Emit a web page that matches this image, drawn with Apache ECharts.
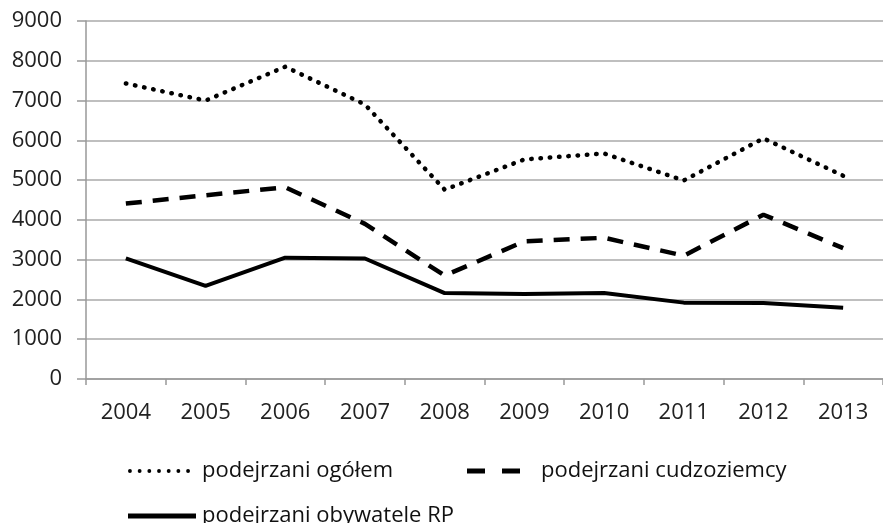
<!DOCTYPE html>
<html><head><meta charset="utf-8">
<script src="https://cdn.jsdelivr.net/npm/echarts@6/dist/echarts.min.js"></script>
<style>html,body{margin:0;padding:0;background:#fff}#c{width:883px;height:523px}</style>
</head><body><div id="c"></div>
<script>
const years = ['2004','2005','2006','2007','2008','2009','2010','2011','2012','2013'];
const ogolem = [7430, 7000, 7850, 6900, 4760, 5520, 5670, 4990, 6050, 5110];
const cudzoziemcy = [4410, 4620, 4820, 3900, 2600, 3460, 3550, 3100, 4130, 3290];
const obywatele = [3030, 2340, 3050, 3030, 2160, 2140, 2160, 1920, 1910, 1790];
const seriesNames = ['podejrzani ogółem', 'podejrzani cudzoziemcy', 'podejrzani obywatele RP'];

let dots = '';
for (let i = 0; i < 7; i++) { const x = i * 10; dots += 'M' + x + ',2a2,2 0 1 1 4,0a2,2 0 1 1 -4,0Z'; }
const dotIcon = 'path://' + dots;
const dashIcon = 'path://M0,0h18v5h-18Z M35,0h18v5h-18Z';
const solidIcon = 'path://M0,0h68v5h-68Z';

const chart = echarts.init(document.getElementById('c'), null, {renderer: 'canvas'});
const axisFont = 'Open Sans';
const legendText = {fontFamily: 'Open Sans', fontSize: 22, color: '#111', lineHeight: 26};
chart.setOption({
  animation: false,
  backgroundColor: '#fff',
  grid: {left: 86, top: 21, width: 800, height: 358},
  xAxis: {
    type: 'category', data: years, boundaryGap: true,
    axisLine: {lineStyle: {color: '#999', width: 1.5}},
    axisTick: {show: true, length: 6, lineStyle: {color: '#999', width: 1.5}},
    axisLabel: {fontFamily: axisFont, fontSize: 22, color: '#222', margin: 23}
  },
  yAxis: {
    type: 'value', min: 0, max: 9000, interval: 1000,
    axisLine: {show: true, lineStyle: {color: '#999', width: 1.5}},
    axisTick: {show: true, length: 9, lineStyle: {color: '#999', width: 1.5}},
    splitLine: {lineStyle: {color: '#aaa', width: 1.5}},
    axisLabel: {fontFamily: axisFont, fontSize: 22, color: '#222', margin: 24, formatter: v => String(v)}
  },
  legend: [
    {data: [{name: seriesNames[0], icon: dotIcon}], left: 123, top: 453, itemWidth: 62, itemHeight: 4, textStyle: Object.assign({}, legendText, {padding: [0, 0, 0, 7]})},
    {data: [{name: seriesNames[1], icon: dashIcon}], left: 462, top: 453, itemWidth: 53, itemHeight: 5, textStyle: Object.assign({}, legendText, {padding: [0, 0, 0, 16]})},
    {data: [{name: seriesNames[2], icon: solidIcon}], left: 123, top: 498, itemWidth: 68, itemHeight: 5, textStyle: Object.assign({}, legendText, {padding: [0, 0, 0, 1]})}
  ],
  series: [
    {name: seriesNames[0], type: 'line', data: ogolem, showSymbol: false, symbol: 'none', color: '#000',
     lineStyle: {color: '#000', width: 4.5, type: [0.5, 8.8], cap: 'round'}},
    {name: seriesNames[1], type: 'line', data: cudzoziemcy, showSymbol: false, symbol: 'none', color: '#000',
     lineStyle: {color: '#000', width: 4.5, type: [16, 11], cap: 'butt'}},
    {name: seriesNames[2], type: 'line', data: obywatele, showSymbol: false, symbol: 'none', color: '#000',
     lineStyle: {color: '#000', width: 4}}
  ]
});
</script></body></html>
